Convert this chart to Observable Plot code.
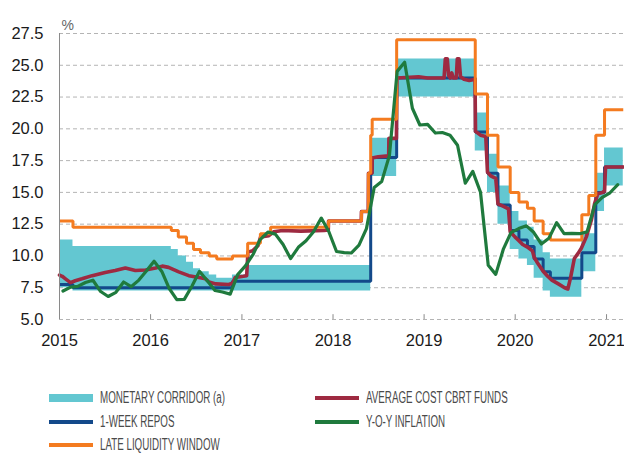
<!DOCTYPE html>
<html>
<head>
<meta charset="utf-8">
<script src="https://cdn.jsdelivr.net/npm/d3@7"></script>
<script src="https://cdn.jsdelivr.net/npm/@observablehq/plot@0.6"></script>
<style>
  body { margin: 0; background: #fff; }
  #wrap { position: relative; width: 624px; height: 454px; overflow: hidden; background: #fff; }
  #chart { position: absolute; left: 0; top: 0; }
  .leg { position: absolute; font-family: "Liberation Sans", Arial, sans-serif; font-size: 16px; color: #4a4a4a; white-space: nowrap; line-height: 16px; transform-origin: 0 50%; display: inline-block; }
  .sw { position: absolute; width: 44px; }
</style>
</head>
<body>
<div id="wrap">
  <div id="chart"></div>
  <div id="legend"></div>
</div>
<script>
// ---------- DATA ----------
const yTicks = [5.0, 7.5, 10.0, 12.5, 15.0, 17.5, 20.0, 22.5, 25.0, 27.5];
const yearTicks = ["2015", "2016", "2017", "2018", "2019", "2020", "2021"];

// Monetary corridor (overnight borrowing / lending rates), step changes
const corridorDates = ["2015-01-01","2015-02-24","2016-03-24","2016-04-21","2016-05-24","2016-06-21","2016-07-19","2016-08-23","2016-09-22","2016-11-24","2017-01-24","2018-06-01","2018-06-07","2018-09-13","2019-07-25","2019-09-12","2019-10-24","2019-12-12","2020-01-16","2020-02-19","2020-03-17","2020-04-22","2020-05-21","2020-09-24","2020-11-19","2020-12-24","2021-03-09"];
const corridorLow  = [7.5,7.25,7.25,7.25,7.25,7.25,7.25,7.25,7.25,7.25,7.25,15.0,16.25,22.5,18.25,15.0,12.5,10.5,9.75,9.25,8.25,7.25,6.75,8.75,13.5,15.5,15.5];
const corridorHigh = [11.25,10.75,10.5,10.0,9.5,9.0,8.75,8.5,8.25,8.5,9.25,18.0,19.25,25.5,21.25,18.0,15.5,13.5,12.75,12.25,11.25,10.25,9.75,11.75,16.5,18.5,18.5];

// 1-week repo rate
const repoDates = ["2015-01-01","2015-02-24","2016-11-24","2018-06-01","2018-06-07","2018-09-13","2019-07-25","2019-09-12","2019-10-24","2019-12-12","2020-01-16","2020-02-19","2020-03-17","2020-04-22","2020-05-21","2020-09-24","2020-11-19","2020-12-24","2021-03-09"];
const repoRates = [7.75,7.5,8.0,16.5,17.75,24.0,19.75,16.5,14.0,12.0,11.25,10.75,9.75,8.75,8.25,10.25,15.0,17.0,17.0];

// Late liquidity window lending rate
const llwDates = ["2015-01-01","2015-02-24","2016-03-24","2016-04-21","2016-05-24","2016-06-21","2016-07-19","2016-08-23","2016-09-22","2016-11-24","2017-01-24","2017-03-16","2017-04-26","2017-12-14","2018-04-25","2018-05-23","2018-06-01","2018-06-07","2018-09-13","2019-07-25","2019-09-12","2019-10-24","2019-12-12","2020-01-16","2020-02-19","2020-03-17","2020-04-22","2020-05-21","2020-09-24","2020-10-22","2020-11-19","2020-12-24","2021-03-09"];
const llwRates = [12.75,12.25,12.0,11.5,11.0,10.5,10.25,10.0,9.75,10.0,11.0,11.75,12.25,12.75,13.5,16.5,19.5,20.75,27.0,22.75,19.5,17.0,15.0,14.25,13.75,12.75,11.75,11.25,13.25,14.75,19.5,21.5,21.5];

// Average cost of CBRT funding
const costDates = ["2015-01-01","2015-01-12","2015-01-25","2015-02-14","2015-03-05","2015-04-01","2015-05-12","2015-07-03","2015-08-12","2015-09-22","2015-11-01","2015-12-12","2016-01-21","2016-02-17","2016-03-13","2016-04-23","2016-06-02","2016-07-13","2016-08-08","2016-08-22","2016-09-18","2016-11-09","2016-11-24","2016-12-05","2017-01-07","2017-01-20","2017-01-25","2017-02-13","2017-03-06","2017-03-17","2017-04-19","2017-05-08","2017-06-13","2017-08-25","2017-11-26","2017-12-13","2017-12-14","2018-04-24","2018-04-25","2018-05-22","2018-05-23","2018-06-06","2018-06-07","2018-07-01","2018-08-01","2018-08-12","2018-08-13","2018-09-12","2018-09-14","2018-12-10","2019-01-15","2019-03-22","2019-03-27","2019-04-04","2019-04-09","2019-04-16","2019-04-22","2019-04-28","2019-05-10","2019-05-14","2019-05-21","2019-05-27","2019-06-10","2019-07-01","2019-07-24","2019-07-26","2019-08-15","2019-09-05","2019-09-12","2019-09-25","2019-10-15","2019-10-24","2019-11-15","2019-12-05","2019-12-12","2019-12-31","2020-01-16","2020-01-31","2020-02-19","2020-03-10","2020-03-17","2020-04-01","2020-04-22","2020-05-10","2020-05-27","2020-06-22","2020-07-17","2020-07-30","2020-08-10","2020-08-25","2020-09-09","2020-09-22","2020-10-12","2020-11-01","2020-11-14","2020-11-27","2020-12-16","2020-12-24","2020-12-28","2021-03-09"];
const costRates = [8.5,8.4,8.2,7.9,8.05,8.2,8.45,8.7,8.85,9.05,8.85,8.9,9.05,9.2,9.1,8.75,8.45,8.3,8.2,7.95,7.8,7.75,7.85,8.3,8.4,8.45,10.3,10.4,10.8,11.5,11.6,11.9,12.0,11.95,12.0,12.05,12.75,12.75,13.5,13.5,16.5,16.5,17.7,17.8,17.85,17.85,19.25,19.25,24.0,24.1,24.0,24.0,25.5,25.5,24.2,24.0,24.4,24.0,24.0,25.5,25.5,24.1,23.9,23.8,23.9,19.8,19.5,19.4,16.6,16.3,16.1,14.1,13.9,13.7,11.9,11.5,11.2,10.9,10.7,10.4,9.9,9.4,8.8,8.4,8.1,7.8,7.5,7.4,8.3,9.8,10.2,10.6,11.5,12.8,14.1,14.9,15.0,15.1,17.0,17.0];

// Y-o-Y inflation, monthly (Jan 2015 – Feb 2021)
const inflMonths = ["2015-01","2015-02","2015-03","2015-04","2015-05","2015-06","2015-07","2015-08","2015-09","2015-10","2015-11","2015-12","2016-01","2016-02","2016-03","2016-04","2016-05","2016-06","2016-07","2016-08","2016-09","2016-10","2016-11","2016-12","2017-01","2017-02","2017-03","2017-04","2017-05","2017-06","2017-07","2017-08","2017-09","2017-10","2017-11","2017-12","2018-01","2018-02","2018-03","2018-04","2018-05","2018-06","2018-07","2018-08","2018-09","2018-10","2018-11","2018-12","2019-01","2019-02","2019-03","2019-04","2019-05","2019-06","2019-07","2019-08","2019-09","2019-10","2019-11","2019-12","2020-01","2020-02","2020-03","2020-04","2020-05","2020-06","2020-07","2020-08","2020-09","2020-10","2020-11","2020-12","2021-01","2021-02"];
const inflRates = [7.24,7.55,7.61,7.91,8.09,7.20,6.81,7.14,7.95,7.58,8.10,8.81,9.58,8.78,7.46,6.57,6.58,7.64,8.79,8.05,7.28,7.16,7.00,8.53,9.22,10.13,11.29,11.87,11.72,10.90,9.79,10.68,11.20,11.90,12.98,11.92,10.35,10.26,10.23,10.85,12.15,15.39,15.85,17.90,24.52,25.24,21.62,20.30,20.35,19.67,19.71,19.50,18.71,15.72,16.65,15.01,9.26,8.55,10.56,11.84,12.15,12.37,11.86,10.94,11.39,12.62,11.76,11.77,11.75,11.89,14.03,14.60,14.97,15.61];

// ---------- BUILD ----------
const parse = d3.utcParse("%Y-%m-%d");
const corridor = corridorDates.map((d, i) => ({date: parse(d), low: corridorLow[i], high: corridorHigh[i]}));
const repo = repoDates.map((d, i) => ({date: parse(d), v: repoRates[i]}));
const llw = llwDates.map((d, i) => ({date: parse(d), v: llwRates[i]}));
const cost = costDates.map((d, i) => ({date: parse(d), v: costRates[i]}));
const infl = inflMonths.map((m, i) => ({date: parse(m + "-15"), v: inflRates[i]}));
const years = yearTicks.map(y => parse(y + "-01-01"));

const C = {corridor: "#63c7d1", repo: "#13498a", cost: "#9e2a41", llw: "#f47b20", infl: "#1f7a3d"};
const lineOpts = {strokeLinejoin: "miter", strokeLinecap: "butt"};

const chart = Plot.plot({
  width: 624, height: 360,
  marginLeft: 59, marginRight: 0, marginTop: 33, marginBottom: 41,
  style: {fontFamily: "'Liberation Sans', Arial, sans-serif", fontSize: "16.5px", color: "#1a1a1a", background: "white", overflow: "visible"},
  x: {type: "utc", domain: [parse("2015-01-01"), parse("2021-03-14")]},
  y: {domain: [5, 27.5]},
  marks: [
    Plot.ruleY(yTicks, {stroke: "#b4b4b4", strokeWidth: 1, strokeDasharray: "4,3"}),
    Plot.areaY(corridor, {x: "date", y1: "low", y2: "high", curve: "step-after", fill: C.corridor}),
    Plot.lineY(repo, {x: "date", y: "v", curve: "step-after", stroke: C.repo, strokeWidth: 3, ...lineOpts}),
    Plot.lineY(cost, {x: "date", y: "v", stroke: C.cost, strokeWidth: 3.6, strokeLinejoin: "round"}),
    Plot.lineY(llw, {x: "date", y: "v", curve: "step-after", stroke: C.llw, strokeWidth: 3, ...lineOpts}),
    Plot.lineY(infl, {x: "date", y: "v", stroke: C.infl, strokeWidth: 3.2, strokeLinejoin: "round"}),
    Plot.ruleX([parse("2015-01-01")], {stroke: "#8a8a8a", strokeWidth: 1}),
    Plot.ruleX(years, {y1: 5, y2: 5.38, stroke: "#8a8a8a", strokeWidth: 1}),
    Plot.axisY(yTicks, {tickSize: 0, tickPadding: 16, tickFormat: d3.format(".1f"), label: null}),
    Plot.axisX(years, {tickSize: 0, tickPadding: 15, tickFormat: d3.utcFormat("%Y"), label: null}),
    Plot.text(["%"], {frameAnchor: "top-left", dx: 2, dy: -13, textAnchor: "start", fontSize: 14, fill: "#666"})
  ]
});
document.getElementById("chart").appendChild(chart);

// ---------- LEGEND ----------
const legendItems = [
  {label: "MONETARY CORRIDOR (a)", color: C.corridor, h: 8, col: 0, row: 0},
  {label: "1-WEEK REPOS", color: C.repo, h: 4, col: 0, row: 1},
  {label: "LATE LIQUIDITY WINDOW", color: C.llw, h: 4, col: 0, row: 2},
  {label: "AVERAGE COST CBRT FUNDS", color: C.cost, h: 4, col: 1, row: 0},
  {label: "Y-O-Y INFLATION", color: C.infl, h: 4, col: 1, row: 1}
];
const colX = [49, 315];
const rowY = [398, 422, 445];
const leg = document.getElementById("legend");
const texts = [];
legendItems.forEach(it => {
  const sw = document.createElement("div");
  sw.className = "sw";
  sw.style.left = colX[it.col] + "px";
  sw.style.top = (rowY[it.row] - it.h / 2) + "px";
  sw.style.height = it.h + "px";
  sw.style.background = it.color;
  leg.appendChild(sw);
  const t = document.createElement("span");
  t.className = "leg";
  t.style.left = (colX[it.col] + 51) + "px";
  t.style.top = (rowY[it.row] - 8) + "px";
  t.textContent = it.label;
  leg.appendChild(t);
  texts.push(t);
});
// condense the legend type to match the narrow face of the original
const w0 = texts[0].getBoundingClientRect().width;
const k = w0 > 0 ? 125 / w0 : 0.68;
texts.forEach(t => { t.style.transform = `scaleX(${k})`; });
</script>
</body>
</html>
